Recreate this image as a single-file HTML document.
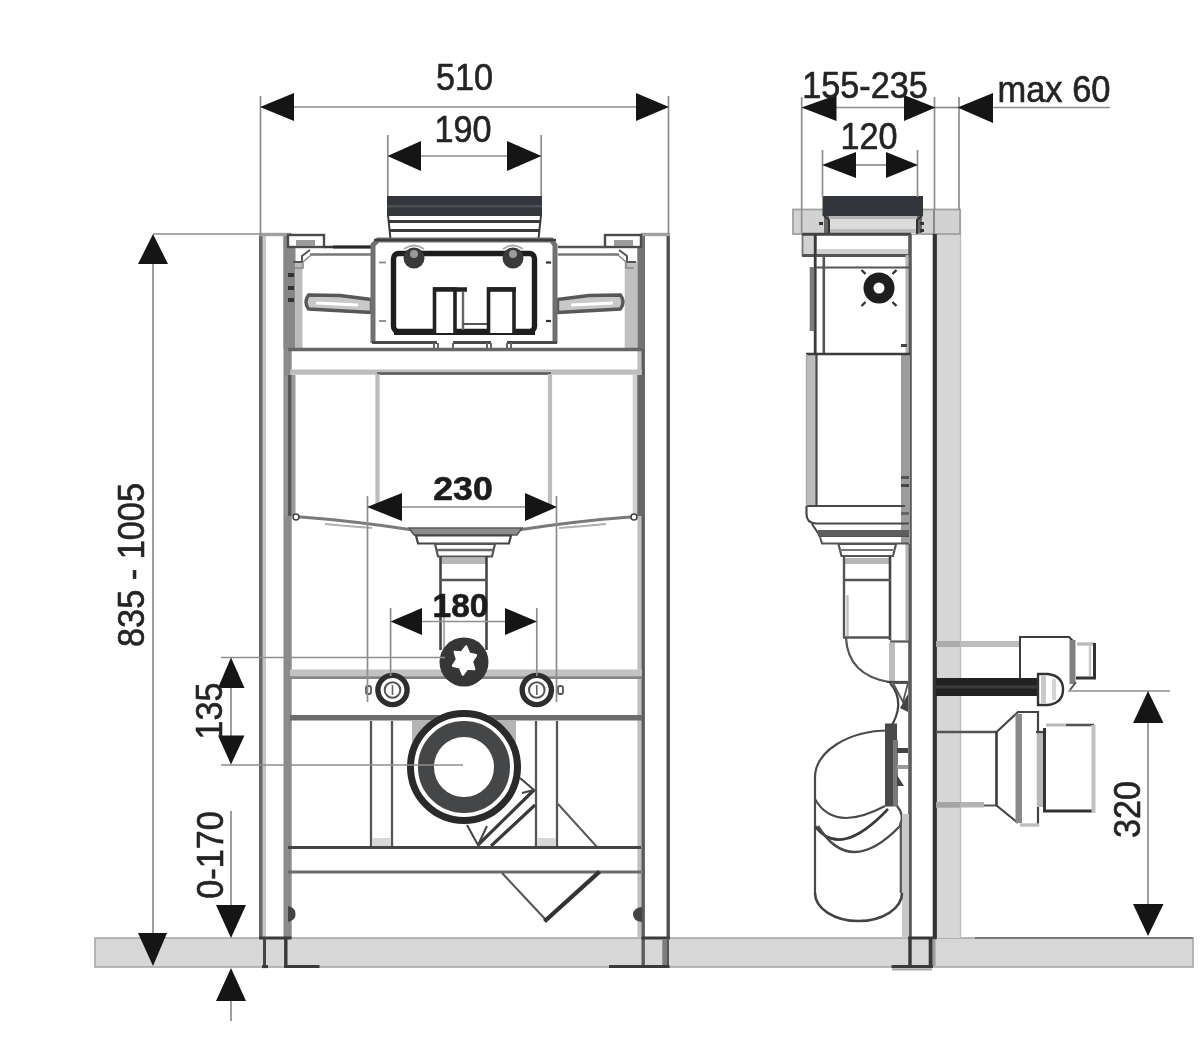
<!DOCTYPE html>
<html lang="en">
<head>
<meta charset="utf-8">
<title>Installation frame dimensions</title>
<style>
html,body{margin:0;padding:0;background:#fff;}
body{width:1200px;height:1037px;overflow:hidden;}
svg{display:block;filter:blur(0.75px);}
text{font-family:"Liberation Sans",sans-serif;font-size:36px;fill:#242424;stroke:#242424;stroke-width:0.6;}
.b{font-weight:bold;fill:#1c1c1c;stroke:#1c1c1c;font-size:33.5px;}
.dim{stroke:#8e8e8e;stroke-width:1.7;fill:none;}
.ar{fill:#151515;stroke:none;}
.k{stroke:#3a3a3a;fill:none;stroke-width:2.4;}
.k2{stroke:#555;fill:none;stroke-width:2;}
.g{stroke:#888;fill:none;stroke-width:3;}
.lg{stroke:#b8b8b8;fill:none;stroke-width:3;}
</style>
</head>
<body>
<svg width="1200" height="1037" viewBox="0 0 1200 1037">
<rect x="0" y="0" width="1200" height="1037" fill="#ffffff"/>

<!-- ================= FLOOR ================= -->
<g id="floor">
<rect x="95" y="938" width="1098" height="29" fill="#d7d7d7" stroke="#a8a8a8" stroke-width="1.6"/>
<line x1="975" y1="938" x2="1193" y2="938" stroke="#777" stroke-width="2"/>
</g>

<!-- FRONT-VIEW -->
<g id="front">
<!-- posts -->
<g>
<line x1="264.2" y1="236" x2="264.2" y2="937" stroke="#c6c6c6" stroke-width="3.6"/>
<line x1="260.8" y1="233" x2="260.8" y2="938" stroke="#666" stroke-width="3.6"/>
<line x1="287.6" y1="233" x2="287.6" y2="938" stroke="#8a8a8a" stroke-width="8.2"/>
<line x1="290.5" y1="375" x2="290.5" y2="516" stroke="#9a9a9a" stroke-width="10"/>
<line x1="289.6" y1="375" x2="289.6" y2="516" stroke="#555" stroke-width="3.6"/>
<line x1="639.6" y1="350" x2="639.6" y2="938" stroke="#c0c0c0" stroke-width="4.4"/>
<line x1="643.2" y1="233" x2="643.2" y2="967" stroke="#5c5c5c" stroke-width="3.4"/>
<line x1="635" y1="375" x2="635" y2="516" stroke="#d0d0d0" stroke-width="4.6"/>
<line x1="640.9" y1="375" x2="640.9" y2="516" stroke="#686868" stroke-width="7.2"/>
<line x1="668.2" y1="233" x2="668.2" y2="938" stroke="#4c4c4c" stroke-width="3.3"/>
<!-- top caps -->
<line x1="259" y1="234.5" x2="290" y2="234.5" stroke="#a0a0a0" stroke-width="3.4"/>
<line x1="641" y1="234.5" x2="670" y2="234.5" stroke="#a0a0a0" stroke-width="3.4"/>
<!-- floor level between post lines -->
<line x1="259" y1="938" x2="291.5" y2="938" stroke="#3a3a3a" stroke-width="3"/>
<line x1="641.5" y1="938" x2="670" y2="938" stroke="#3a3a3a" stroke-width="3"/>
<!-- in-floor legs -->
<line x1="264.5" y1="938" x2="264.5" y2="967" stroke="#444" stroke-width="3"/>
<line x1="285.8" y1="938" x2="285.8" y2="967" stroke="#383838" stroke-width="3.4"/>
<rect x="662.3" y="939" width="6.7" height="28" fill="#7c7c7c"/>
<line x1="668" y1="938" x2="668" y2="967" stroke="#555" stroke-width="2"/>
<!-- feet -->
<line x1="284" y1="966.6" x2="319.5" y2="966.6" stroke="#3a3a3a" stroke-width="3"/>
<line x1="262" y1="966.6" x2="268" y2="966.6" stroke="#3a3a3a" stroke-width="3"/>
<line x1="609" y1="966.6" x2="669.5" y2="966.6" stroke="#3a3a3a" stroke-width="3"/>
<!-- little marks -->
<path d="M288 906 Q296 908 295.5 914 Q296 920 288 922 Z" fill="#444"/>
<path d="M642 907 Q633 908 633 914.5 Q633 921 642 922 Z" fill="#444"/>
</g>

<!-- upper side walls of frame -->
<g>
<rect x="283.5" y="236" width="12" height="113" fill="#878787"/>
<rect x="295.5" y="262" width="7" height="87" fill="#bcbcbc"/>
<rect x="637.3" y="236" width="7" height="113" fill="#747474"/>
<rect x="624.7" y="262" width="12.6" height="87" fill="#c0c0c0"/>
<!-- dots -->
<rect x="288" y="273" width="6" height="4" fill="#333"/>
<rect x="288" y="286" width="6" height="4" fill="#333"/>
<rect x="288" y="298" width="6" height="4" fill="#333"/>
</g>

<!-- corner brackets -->
<g>
<rect x="288" y="235" width="36" height="12" fill="#fff" stroke="#4a4a4a" stroke-width="2.4"/>
<rect x="296" y="240" width="19" height="6" fill="#9a9a9a"/>
<path d="M324 247 H333 M333 247 H371" class="k"/>
<line x1="333" y1="247" x2="371" y2="247" stroke="#2a2a2a" stroke-width="2.8"/>
<line x1="310" y1="254.5" x2="371" y2="254.5" stroke="#777" stroke-width="2.4"/>
<path d="M293 262 L302 262 L302 256 L310 250" stroke="#555" stroke-width="2" fill="none"/>
<path d="M295 268 L303 268 L303 262 L311 255" stroke="#888" stroke-width="1.6" fill="none"/>

<rect x="605" y="235" width="36" height="12" fill="#fff" stroke="#4a4a4a" stroke-width="2.4"/>
<rect x="614" y="240" width="19" height="6" fill="#9a9a9a"/>
<line x1="558" y1="247" x2="605" y2="247" stroke="#555" stroke-width="2.4"/>
<line x1="558" y1="254.5" x2="619" y2="254.5" stroke="#777" stroke-width="2.4"/>
<path d="M636 262 L627 262 L627 256 L619 250" stroke="#555" stroke-width="2" fill="none"/>
<path d="M634 268 L626 268 L626 262 L618 255" stroke="#888" stroke-width="1.6" fill="none"/>
</g>

<!-- levers -->
<g>
<path d="M308.5 295 Q303.5 302 308.5 309 L371.5 312.5 L371.5 299.5 L340 295.5 Z" fill="#c8c8c8" stroke="#585858" stroke-width="3.4" stroke-linejoin="round"/>
<line x1="316" y1="303" x2="358" y2="305" stroke="#fff" stroke-width="3.2"/>
<path d="M620.5 295 Q625.5 302 620.5 309 L557.5 312.5 L557.5 299.5 L589 295.5 Z" fill="#c8c8c8" stroke="#585858" stroke-width="3.4" stroke-linejoin="round"/>
<line x1="613" y1="303" x2="571" y2="305" stroke="#fff" stroke-width="3.2"/>
</g>

<!-- flush pipe head -->
<g>
<path d="M388 215 L541 215 L538.5 239 L390.5 239 Z" fill="#fff" stroke="#3a3a3a" stroke-width="2"/>
<line x1="389" y1="221.5" x2="540" y2="221.5" stroke="#3a3a3a" stroke-width="3"/>
<line x1="390" y1="230.5" x2="539" y2="230.5" stroke="#3a3a3a" stroke-width="3"/>
<rect x="387" y="196" width="155" height="19.5" fill="#33363a"/>
<rect x="387" y="205" width="155" height="2.5" fill="#4a4d52"/>
</g>

<!-- cistern access box -->
<g>
<path d="M373 343 L373 245 L378 240 L551.5 240 L555 245 L555 343" fill="#fff" stroke="#707070" stroke-width="5"/>
<line x1="374" y1="240" x2="556" y2="240" stroke="#3c3c3c" stroke-width="2.6"/>
<rect x="393.5" y="253.5" width="141" height="78" rx="5" fill="#fff" stroke="#1e1e1e" stroke-width="5.4"/>
<line x1="394" y1="332.5" x2="535" y2="332.5" stroke="#1e1e1e" stroke-width="5"/>
<!-- screws -->
<circle cx="414" cy="258" r="10.5" fill="#3a3a3a"/>
<circle cx="414" cy="254" r="4" fill="#9a9a9a"/>
<circle cx="513" cy="258" r="10.5" fill="#3a3a3a"/>
<circle cx="513" cy="254" r="4" fill="#9a9a9a"/>
<path d="M404 249 Q414 242 424 249" stroke="#aaa" stroke-width="2" fill="none"/>
<path d="M503 249 Q513 242 523 249" stroke="#aaa" stroke-width="2" fill="none"/>
<!-- buttons -->
<path d="M434.5 333 V289 H455 V333" fill="#fff" stroke="#222" stroke-width="3.6"/>
<line x1="433" y1="289.5" x2="467" y2="289.5" stroke="#222" stroke-width="4.6"/>
<path d="M488.5 333 V289 H514 V333" fill="#fff" stroke="#222" stroke-width="3.6"/>
<line x1="487" y1="289.5" x2="516" y2="289.5" stroke="#222" stroke-width="4.6"/>
<line x1="463" y1="292" x2="463" y2="330" stroke="#666" stroke-width="2.4"/>
<line x1="463" y1="324" x2="487" y2="324" stroke="#555" stroke-width="2"/>
<!-- ticks -->
<line x1="379" y1="262.5" x2="386" y2="262.5" stroke="#888" stroke-width="1.8"/>
<line x1="379" y1="321" x2="386" y2="321" stroke="#888" stroke-width="1.8"/>
<line x1="546" y1="262.5" x2="551" y2="262.5" stroke="#333" stroke-width="2.2"/>
<line x1="546" y1="321" x2="551" y2="321" stroke="#333" stroke-width="2.2"/>
<!-- bottom of box -->
<path d="M372 342.5 H437 M453 342.5 H491 M507 342.5 H557" stroke="#4a4a4a" stroke-width="2.8" fill="none"/>
<path d="M434 343 V350 M438 343 V350 M453 343 V350 M487 343 V350 M491 343 V350 M507 343 V350 M511 343 V350" stroke="#666" stroke-width="2" fill="none"/>
</g>

<!-- crossbar 1 -->
<g>
<line x1="288" y1="349.5" x2="643" y2="349.5" stroke="#666" stroke-width="3.4"/>
<line x1="290" y1="372.2" x2="642" y2="372.2" stroke="#bdbdbd" stroke-width="5.2"/>
<line x1="377" y1="373.5" x2="551" y2="373.5" stroke="#5a5a5a" stroke-width="2.4"/>
</g>

<!-- tank -->
<g>
<line x1="377.5" y1="374" x2="377.5" y2="506" stroke="#bdbdbd" stroke-width="4.2"/>
<line x1="550" y1="374" x2="550" y2="506" stroke="#bdbdbd" stroke-width="4.2"/>
<path d="M295 516.5 Q355 521 413 530 L518 530 Q576 521 636 516.5" stroke="#7a7a7a" stroke-width="3.2" fill="none"/>
<path d="M325 524 Q350 526.5 372 528" stroke="#b0b0b0" stroke-width="2" fill="none"/>
<path d="M606 524 Q581 526.5 559 528" stroke="#b0b0b0" stroke-width="2" fill="none"/>
<circle cx="296" cy="517" r="3" fill="#fff" stroke="#444" stroke-width="1.6"/>
<circle cx="634" cy="517" r="3" fill="#fff" stroke="#444" stroke-width="1.6"/>
<path d="M409 528 L522 528 L517 535 L414 535 Z" fill="#8c8c8c" stroke="#5a5a5a" stroke-width="1.6"/>
<path d="M416 535.5 L511 535.5 L509 543.5 L418 543.5 Z" fill="#fff" stroke="#444" stroke-width="2.2"/>
<path d="M435 544 L495 544 L492 556.5 L438 556.5 Z" fill="#fff" stroke="#555" stroke-width="2.2"/>
<line x1="437" y1="550" x2="493" y2="550" stroke="#666" stroke-width="2.4"/>
<!-- pipe down -->
<rect x="441" y="558" width="45" height="6" fill="#b8b8b8"/>
<line x1="440.5" y1="556" x2="440.5" y2="650" stroke="#444" stroke-width="2.6"/>
<line x1="486.5" y1="556" x2="486.5" y2="650" stroke="#444" stroke-width="2.6"/>
<line x1="444" y1="600" x2="444" y2="650" stroke="#b0b0b0" stroke-width="2.2"/>
<line x1="440" y1="580" x2="487" y2="580" stroke="#555" stroke-width="2.4"/>
</g>

<!-- crossbar 2 and 3 -->
<g>
<rect x="290" y="669.5" width="352" height="7" fill="#c2c2c2"/><line x1="290" y1="677.6" x2="642" y2="677.6" stroke="#858585" stroke-width="2.8"/>
<line x1="290" y1="717.8" x2="642" y2="717.8" stroke="#6c6c6c" stroke-width="5.6"/>
</g>

<!-- water inlet -->
<g>
<circle cx="464" cy="662" r="24.5" fill="#363636"/>
<polygon points="466.2,646.6 469.1,653.8 475.9,655.3 471.9,661.7 474.2,669.1 467.3,668.4 462.8,674.4 459.9,667.2 453.1,665.7 457.1,659.3 454.8,651.9 461.7,652.6" fill="#fff" stroke="#fff" stroke-width="2.5" stroke-linejoin="round"/>
</g>

<!-- bolts -->
<g>
<rect x="366" y="686" width="5" height="8" rx="2" fill="#fff" stroke="#555" stroke-width="1.8"/>
<rect x="558" y="686" width="5" height="8" rx="2" fill="#fff" stroke="#555" stroke-width="1.8"/>
<circle cx="392.5" cy="690" r="14.6" fill="#fff" stroke="#2e2e2e" stroke-width="5.4"/>
<circle cx="392.5" cy="690" r="7.8" fill="#fff" stroke="#555" stroke-width="2"/>
<line x1="392.5" y1="685" x2="392.5" y2="695" stroke="#666" stroke-width="1.6"/>
<circle cx="536.8" cy="690" r="14.6" fill="#fff" stroke="#2e2e2e" stroke-width="5.4"/>
<circle cx="536.8" cy="690" r="7.8" fill="#fff" stroke="#555" stroke-width="2"/>
<line x1="536.8" y1="685" x2="536.8" y2="695" stroke="#666" stroke-width="1.6"/>
</g>

<!-- lower section -->
<g>
<path d="M412 721 H516 V775 H412 Z" fill="#b4b4b4"/>
<line x1="371" y1="721" x2="371" y2="847" stroke="#565656" stroke-width="2.3"/>
<line x1="392" y1="721" x2="392" y2="847" stroke="#565656" stroke-width="2.3"/>
<line x1="536" y1="721" x2="536" y2="847" stroke="#565656" stroke-width="2.3"/>
<line x1="557" y1="721" x2="557" y2="847" stroke="#565656" stroke-width="2.3"/>
<rect x="372" y="838" width="19" height="8" fill="#d8d8d8"/><rect x="537" y="838" width="19" height="8" fill="#d8d8d8"/>
<!-- diagonal pipe -->
<path d="M478 845 L534 790" stroke="#3a3a3a" stroke-width="3.2" fill="none"/>
<path d="M491 846 L535 805" stroke="#3a3a3a" stroke-width="3.2" fill="none"/>
<path d="M467 825 L478 845 L487 826" stroke="#444" stroke-width="2" fill="#fff"/>
<path d="M520 778 L534 790 L522 793" stroke="#444" stroke-width="2" fill="#fff"/>
<line x1="558" y1="804" x2="597" y2="847" stroke="#5a5a5a" stroke-width="2"/>
<!-- big circle -->
<circle cx="464" cy="767" r="57" fill="#fff"/>
<circle cx="464" cy="767" r="53.5" fill="none" stroke="#2a2a2a" stroke-width="7"/>
<circle cx="464" cy="767" r="38" fill="none" stroke="#444648" stroke-width="16"/>
<!-- crossbar 4 -->
<line x1="288" y1="847.5" x2="641" y2="847.5" stroke="#444" stroke-width="3"/>
<line x1="288" y1="872" x2="641" y2="872" stroke="#6a6a6a" stroke-width="3.2"/>
<!-- V below -->
<line x1="502" y1="873" x2="546" y2="920" stroke="#555" stroke-width="2"/>
<line x1="546" y1="920" x2="598" y2="873" stroke="#333" stroke-width="4.2" stroke-linecap="square"/>
</g>
</g>


<!-- SIDE-VIEW -->
<g id="side">
<!-- wall -->
<rect x="936" y="210" width="24.5" height="728" fill="#d6d6d6"/>
<line x1="960.5" y1="210" x2="960.5" y2="938" stroke="#bdbdbd" stroke-width="1.4"/>
<!-- top plate -->
<rect x="793" y="209.5" width="167" height="24.5" fill="#d2d2d2" stroke="#a0a0a0" stroke-width="1.8"/>
<rect x="824" y="216" width="98" height="17" fill="#666"/><rect x="829" y="216" width="88" height="18" fill="#dcdcdc"/><rect x="829" y="216" width="88" height="3" fill="#b4b4b4"/><rect x="829" y="229" width="88" height="4" fill="#bcbcbc"/>
<rect x="822.5" y="196" width="100.5" height="20" fill="#33363a"/>
<path d="M824 216 L829 220 V234 M922 216 L917 220 V234" stroke="#333" stroke-width="2" fill="none"/>
<rect x="819" y="222" width="4" height="3" fill="#333"/>
<rect x="920" y="222" width="4" height="3" fill="#333"/>
<rect x="920" y="229" width="4" height="3" fill="#333"/>
<!-- second level -->
<rect x="802.5" y="234" width="13" height="21" fill="#d2d2d2" stroke="#777" stroke-width="1.8"/>
<rect x="817" y="235" width="93" height="20" fill="#fff"/>
<line x1="802" y1="234.3" x2="911" y2="234.3" stroke="#444" stroke-width="3"/>
<line x1="802" y1="255.5" x2="910" y2="255.5" stroke="#555" stroke-width="3"/><rect x="817" y="249" width="92" height="5" fill="#d0d0d0"/>
<!-- frame vertical (front member) -->
<line x1="910" y1="234" x2="910" y2="938" stroke="#5a5a5a" stroke-width="3.6"/>
<line x1="907" y1="255" x2="907" y2="640" stroke="#b4b4b4" stroke-width="3"/>
<line x1="934.8" y1="234" x2="934.8" y2="938" stroke="#333" stroke-width="4.2"/>
<line x1="934" y1="210" x2="934" y2="234" stroke="#888" stroke-width="2"/>
<!-- upper box -->
<line x1="815.2" y1="234" x2="815.2" y2="354" stroke="#3a3a3a" stroke-width="2.8"/>
<line x1="823.8" y1="256" x2="823.8" y2="354" stroke="#555" stroke-width="2.6"/>
<line x1="816" y1="267.5" x2="910" y2="267.5" stroke="#555" stroke-width="2.2"/>
<line x1="812" y1="267" x2="812" y2="331" stroke="#7c7c7c" stroke-width="4.6"/>
<rect x="901" y="344" width="6" height="3" fill="#444"/>
<!-- nut -->
<circle cx="879" cy="288" r="10.5" fill="#fff" stroke="#1e1e1e" stroke-width="10"/>
<path d="M861.5 270 L865.5 274 M896.5 270 L892.5 274 M861.5 306 L865.5 302 M896.5 306 L892.5 302" stroke="#333" stroke-width="2.4"/>
<!-- cistern body side -->
<rect x="806.5" y="354" width="10" height="152" fill="#bcbcbc"/>
<rect x="901" y="354" width="9" height="190" fill="#9c9c9c"/>
<line x1="816.5" y1="354" x2="816.5" y2="507" stroke="#4a4a4a" stroke-width="2.2"/>
<line x1="806" y1="354" x2="910" y2="354" stroke="#3a3a3a" stroke-width="2.4"/>
<line x1="806" y1="506" x2="905" y2="506" stroke="#4a4a4a" stroke-width="2.2"/>
<path d="M806.5 506 V514 Q806.5 523 816 523.5 H909" stroke="#4a4a4a" stroke-width="2.2" fill="none"/>
<line x1="806.5" y1="354" x2="806.5" y2="506" stroke="#aaa" stroke-width="1.4"/>
<rect x="901" y="476" width="8" height="3" fill="#555"/>
<rect x="901" y="484" width="8" height="3" fill="#444"/>
<rect x="901" y="512" width="8" height="3" fill="#666"/>
<path d="M812 524 L820 536 H909" stroke="#444" stroke-width="2" fill="none"/>
<rect x="818" y="530" width="91" height="6.5" fill="#5e5e5e"/>
<path d="M820 537 L822 543.5 H909" stroke="#555" stroke-width="2" fill="none"/>
<!-- neck -->
<path d="M838.5 544 H896 L893 556 H841.5 Z" fill="#fff" stroke="#555" stroke-width="2.2"/>
<line x1="840" y1="550" x2="895" y2="550" stroke="#777" stroke-width="2"/>
<rect x="845" y="558" width="44" height="6" fill="#b8b8b8"/>
<line x1="844" y1="556" x2="844" y2="637" stroke="#555" stroke-width="2.4"/>
<line x1="847.5" y1="595" x2="847.5" y2="636" stroke="#c0c0c0" stroke-width="2.4"/>
<line x1="890" y1="556" x2="890" y2="640" stroke="#444" stroke-width="2.6"/>
<line x1="843" y1="580" x2="891" y2="580" stroke="#555" stroke-width="2.4"/>
<line x1="843" y1="637.5" x2="891" y2="637.5" stroke="#555" stroke-width="2.4"/>
<line x1="890" y1="641.5" x2="909" y2="641.5" stroke="#555" stroke-width="2.2"/>
<rect x="889" y="643" width="6" height="39" fill="#bdbdbd"/>
<!-- elbow -->
<path d="M846 638 Q848 675 889 682" stroke="#555" stroke-width="2.2" fill="none"/>
<path d="M887 682 H908" stroke="#444" stroke-width="2.2" fill="none"/>
<path d="M890 683 Q907 703 889 730" stroke="#444" stroke-width="2.2" fill="none"/>
<path d="M893 683 L903 702 L908 683 Z" fill="#fff" stroke="#555" stroke-width="1.8"/>
<path d="M900 708 L908 694 V712 Z" fill="#444"/>
<!-- big elbow -->
<path d="M889 730.5 A74 47 0 0 0 815 777.5 V893" stroke="#4a4a4a" stroke-width="2.2" fill="none"/>
<rect x="885" y="723.5" width="12" height="83" fill="#4a4a4a"/>
<rect x="893" y="740" width="5" height="66" fill="#7a7a7a"/>
<rect x="897" y="748" width="11" height="5" fill="#444"/>
<rect x="897" y="765" width="11" height="4" fill="#999"/>
<path d="M897 775 L904 786 H897 Z" fill="#444"/>
<path d="M815 799 Q834 833 885 806" stroke="#4a4a4a" stroke-width="2" fill="none"/>
<path d="M815 826 Q840 860 888 809" stroke="#3a3a3a" stroke-width="2.6" fill="none"/>
<path d="M818 826 Q850 878 900 826 Q905 815 897 806" stroke="#4a4a4a" stroke-width="2.4" fill="none"/>
<line x1="900.8" y1="822" x2="900.8" y2="893" stroke="#555" stroke-width="2.2"/>
<rect x="902" y="814" width="7" height="124" fill="#c8c8c8"/>
<path d="M815 893 A43.5 28 0 0 0 902 893" stroke="#444" stroke-width="2.6" fill="none"/>
<!-- frame foot -->
<line x1="891.5" y1="966.6" x2="933" y2="966.6" stroke="#3a3a3a" stroke-width="3"/>
<line x1="892" y1="969.4" x2="932" y2="969.4" stroke="#a8a8a8" stroke-width="2.4"/>
<line x1="908" y1="938" x2="936.6" y2="938" stroke="#383838" stroke-width="3"/>
<rect x="932.5" y="939" width="3" height="27" fill="#9c9c9c"/>
<line x1="910" y1="938" x2="910" y2="967" stroke="#383838" stroke-width="3.4"/>
<line x1="930.6" y1="938" x2="930.6" y2="967" stroke="#383838" stroke-width="3.8"/>

<!-- right-hand connectors -->
<rect x="936" y="641" width="84" height="6" fill="#bdbdbd"/>
<rect x="936" y="641" width="24" height="6" fill="#ababab"/>
<path d="M1020 681 V637 H1069 L1073 641 V681" fill="#fff" stroke="#3c3c3c" stroke-width="2"/>
<rect x="1069.5" y="640" width="6" height="44" fill="#808080"/>
<path d="M1077 644 H1094" stroke="#bbb" stroke-width="3.4" fill="none"/>
<path d="M1094.5 643 V678 H1076" stroke="#333" stroke-width="3" fill="none"/>
<line x1="1090" y1="646" x2="1090" y2="676" stroke="#c8c8c8" stroke-width="2.4"/>
<path d="M1076 682 L1070 690" stroke="#555" stroke-width="2"/>
<!-- bolt -->
<rect x="936" y="678" width="105" height="18" fill="#222"/>
<rect x="936" y="685.5" width="105" height="3" fill="#3c3c3c"/>
<path d="M1038 674 H1048 Q1063 676 1063 689.5 Q1063 703 1048 705 H1038 Z" fill="#fff" stroke="#333" stroke-width="2.4"/>
<rect x="1041" y="676" width="5" height="27" fill="#c8c8c8"/>
<rect x="1052" y="679" width="4" height="21" fill="#d4d4d4"/>
<!-- outlet connector -->
<line x1="936" y1="732" x2="996" y2="732" stroke="#555" stroke-width="2.4"/>
<rect x="936" y="802" width="48" height="5.5" fill="#b4b4b4"/>
<rect x="936" y="802" width="24" height="5.5" fill="#a4a4a4"/>
<line x1="984" y1="805.5" x2="996" y2="805.5" stroke="#555" stroke-width="2"/>
<line x1="996.5" y1="731" x2="996.5" y2="806" stroke="#3a3a3a" stroke-width="2.6"/>
<path d="M996.5 732 L1018 712 H1038 V826" stroke="#444" stroke-width="2.2" fill="none"/>
<path d="M996.5 805.5 L1018 823" stroke="#444" stroke-width="2.2" fill="none"/>
<rect x="1015.5" y="714" width="6.5" height="109" fill="#8a8a8a"/>
<line x1="1020" y1="825" x2="1039" y2="825" stroke="#c0c0c0" stroke-width="3.4"/>
<rect x="1037" y="732" width="6" height="75" fill="#b8b8b8"/>
<line x1="1036" y1="732" x2="1046" y2="732" stroke="#444" stroke-width="2.2"/>
<path d="M1044.5 728 V811 H1092" stroke="#333" stroke-width="3" fill="none"/>
<path d="M1046 725 H1066" stroke="#bbb" stroke-width="3" fill="none"/>
<path d="M1066 725 H1094" stroke="#555" stroke-width="2.6" fill="none"/>
<line x1="1093.5" y1="725" x2="1093.5" y2="813" stroke="#c2c2c2" stroke-width="4"/>
</g>


<!-- DIMS -->
<g id="dims">
<!-- extension lines -->
<g class="dim">
<line x1="260.5" y1="96" x2="260.5" y2="234"/>
<line x1="668.5" y1="96" x2="668.5" y2="234"/>
<line x1="294" y1="107" x2="637" y2="107"/>
<line x1="387.8" y1="135" x2="387.8" y2="196"/>
<line x1="541.2" y1="135" x2="541.2" y2="196"/>
<line x1="420" y1="156" x2="508" y2="156"/>
<!-- 230 -->
<line x1="367.5" y1="496" x2="367.5" y2="702"/>
<line x1="556.5" y1="496" x2="556.5" y2="702"/>
<line x1="402" y1="507" x2="526" y2="507"/>
<!-- 180 -->
<line x1="390.6" y1="608" x2="390.6" y2="676"/>
<line x1="536.8" y1="608" x2="536.8" y2="676"/>
<line x1="422" y1="621.5" x2="505" y2="621.5"/>
<!-- 835-1005 -->
<line x1="153" y1="264" x2="153" y2="934"/>
<line x1="153" y1="234" x2="262" y2="234"/>
<!-- 135 -->
<line x1="231" y1="686" x2="231" y2="737"/>
<line x1="221" y1="657.5" x2="445" y2="657.5"/>
<line x1="221" y1="765" x2="463" y2="765"/>
<!-- 0-170 -->
<line x1="231" y1="811" x2="231" y2="906"/>
<line x1="231" y1="1000" x2="231" y2="1021"/>
<!-- side -->
<line x1="801.7" y1="97" x2="801.7" y2="234"/>
<line x1="934.5" y1="97" x2="934.5" y2="210"/>
<line x1="959" y1="97" x2="959" y2="210"/>
<line x1="836" y1="107.5" x2="905" y2="107.5"/>
<line x1="935" y1="107.5" x2="959" y2="107.5"/>
<line x1="992" y1="107.5" x2="1110" y2="107.5"/>
<line x1="822.5" y1="150" x2="822.5" y2="197"/>
<line x1="917.5" y1="150" x2="917.5" y2="197"/>
<line x1="856" y1="165" x2="887" y2="165"/>
<!-- 320 -->
<line x1="1148" y1="722" x2="1148" y2="905"/>
<line x1="1068" y1="691" x2="1170" y2="691"/>
</g>
<!-- arrows -->
<g class="ar">
<polygon points="260,107 294,93 294,121"/>
<polygon points="669,107 636,93 636,121"/>
<polygon points="387.5,156 421,141 421,171"/>
<polygon points="541.5,156 507,141 507,171"/>
<polygon points="367,507 402,493 402,521"/>
<polygon points="557,507 525,493 525,521"/>
<polygon points="390.5,621.5 422,608 422,635"/>
<polygon points="537,621.5 505,608 505,635"/>
<polygon points="153,234 138,264 168,264"/>
<polygon points="153,966 138,933 167,933"/>
<polygon points="231,657.5 218,688 244.5,688"/>
<polygon points="231,764.5 218,735.5 244.5,735.5"/>
<polygon points="231,938 216,905 246,905"/>
<polygon points="231,968 216,1001 246,1001"/>
<polygon points="801.5,107.5 836.5,95 836.5,121"/>
<polygon points="935.5,107.5 904,95 904,121"/>
<polygon points="957.5,107.5 993,93 993,123"/>
<polygon points="822,165 856,152 856,178"/>
<polygon points="918,165 886,152 886,178"/>
<polygon points="1148,691 1133,723 1163.5,723"/>
<polygon points="1148,936 1133,904 1163.5,904"/>
</g>
<!-- labels -->
<text x="464.5" y="89.5" text-anchor="middle" textLength="57" lengthAdjust="spacingAndGlyphs">510</text>
<text x="463" y="141.5" text-anchor="middle" textLength="57" lengthAdjust="spacingAndGlyphs">190</text>
<text x="463" y="499.5" text-anchor="middle" class="b" textLength="59.5" lengthAdjust="spacingAndGlyphs">230</text>
<text x="460.5" y="616.5" text-anchor="middle" class="b">180</text>
<text transform="translate(143.5 565) rotate(-90)" text-anchor="middle" textLength="164" lengthAdjust="spacingAndGlyphs">835 - 1005</text>
<text transform="translate(221.5 711) rotate(-90)" text-anchor="middle" textLength="57" lengthAdjust="spacingAndGlyphs">135</text>
<text transform="translate(222.5 855) rotate(-90)" text-anchor="middle" textLength="87.5" lengthAdjust="spacingAndGlyphs">0-170</text>
<text x="865" y="97.5" text-anchor="middle" textLength="125.5" lengthAdjust="spacingAndGlyphs">155-235</text>
<text x="869" y="148.5" text-anchor="middle" textLength="57" lengthAdjust="spacingAndGlyphs">120</text>
<text x="997.5" y="102" textLength="113" lengthAdjust="spacingAndGlyphs">max 60</text>
<text transform="translate(1139.5 809.5) rotate(-90)" text-anchor="middle" textLength="57" lengthAdjust="spacingAndGlyphs">320</text>
</g>


</svg>
</body>
</html>
